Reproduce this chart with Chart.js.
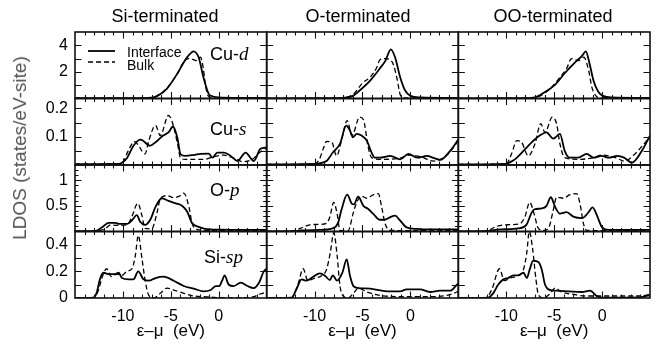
<!DOCTYPE html>
<html>
<head>
<meta charset="utf-8">
<script src="https://cdn.jsdelivr.net/npm/chart.js@4.4.1/dist/chart.umd.min.js"></script>
<style>
  html, body { margin:0; padding:0; background:#fff; }
  #wrap { position:relative; width:667px; height:352px; overflow:hidden;
          font-family:"Liberation Sans", Arial, Helvetica, sans-serif; color:#000; }
  #ldos { position:absolute; left:0; top:0; }
  .coltitle { position:absolute; top:5px; font-size:18px; line-height:22px; white-space:nowrap; transform:translateX(-50%); }
  .ytitle { position:absolute; left:20px; top:148px; font-size:19px; line-height:22px; color:#555; white-space:nowrap;
            transform:translate(-50%,-50%) rotate(-90deg); }
  .plabel { position:absolute; font-size:18px; line-height:20px; white-space:nowrap; }
  .plabel i { font-family:"Liberation Serif", "Times New Roman", serif; font-size:19px; }
  .legtext { position:absolute; left:127px; font-size:14px; line-height:16px; white-space:nowrap; }
</style>
</head>
<body>
<div id="wrap">
  <canvas id="ldos" width="667" height="352"></canvas>

  <div class="coltitle" style="left:165px">Si-terminated</div>
  <div class="coltitle" style="left:358px">O-terminated</div>
  <div class="coltitle" style="left:553px">OO-terminated</div>

  <div class="ytitle">LDOS (states/eV-site)</div>

  <div class="plabel" style="left:210px;top:44px">Cu-<i>d</i></div>
  <div class="plabel" style="left:210px;top:119px">Cu-<i>s</i></div>
  <div class="plabel" style="left:210px;top:180px">O-<i>p</i></div>
  <div class="plabel" style="left:204px;top:247px">Si-<i>sp</i></div>

  <svg style="position:absolute;left:86px;top:44px" width="32" height="24">
    <line x1="2" y1="7" x2="29" y2="7" stroke="#000" stroke-width="1.8"/>
    <line x1="2" y1="18" x2="29" y2="18" stroke="#000" stroke-width="1.3" stroke-dasharray="5,3"/>
  </svg>
  <div class="legtext" style="top:44px">Interface</div>
  <div class="legtext" style="top:57px">Bulk</div>
</div>

<script>
// energy window (eV) and tick labels
var xMin = -15, xMax = 5;
var xTickLabels = [-10, -5, 0];
var cuDTickLabels = [2, 4];
var cuSTickLabels = [0.1, 0.2];
var opTickLabels = [0.5, 1];
var siTickLabels = [0, 0.2, 0.4];

// [energy, LDOS]
// Cu-d
var siCuD_int  = [[-15,0.02],[-8,0.03],[-7,0.06],[-6.4,0.2],[-5.4,0.75],[-4.3,1.9],[-3.5,2.9],[-3.0,3.35],[-2.65,3.55],[-2.1,3.1],[-1.6,1.6],[-1.05,0.35],[-0.6,0.15],[0,0.08],[2,0.05],[5,0.04]];
var siCuD_bulk = [[-15,0.02],[-7,0.05],[-6.2,0.3],[-5.3,0.85],[-4.3,1.9],[-3.6,2.8],[-3.2,3.0],[-2.7,2.95],[-2.4,2.85],[-1.9,3.1],[-1.6,2.2],[-1.35,0.85],[-1.1,0.2],[-0.6,0.05],[5,0.02]];
var oCuD_int   = [[-15,0.01],[-8,0.02],[-7,0.05],[-6,0.2],[-5.3,0.6],[-4.2,1.35],[-3.2,2.25],[-2.6,2.85],[-2.05,3.7],[-1.6,3.1],[-1.07,1.6],[-0.55,0.6],[0,0.2],[1,0.08],[5,0.04]];
var oCuD_bulk  = [[-15,0.01],[-7,0.05],[-6,0.3],[-4.95,1.2],[-4.2,1.6],[-3.5,2.35],[-3.2,2.9],[-2.6,3.0],[-2.1,2.9],[-1.8,2.6],[-1.4,1.5],[-1.07,0.3],[-0.7,0.05],[5,0.02]];
var ooCuD_int  = [[-15,0.01],[-8,0.02],[-7,0.08],[-6,0.47],[-4.95,1.0],[-3.9,1.9],[-2.85,2.7],[-2.1,3.2],[-1.7,3.55],[-1.3,2.6],[-0.9,1.35],[-0.4,0.5],[0.1,0.2],[1,0.08],[5,0.04]];
var ooCuD_bulk = [[-15,0.01],[-7,0.06],[-6,0.4],[-4.95,1.1],[-4.4,1.6],[-3.7,2.25],[-3.2,3.0],[-2.5,2.85],[-1.9,3.1],[-1.4,2.1],[-1.07,0.85],[-0.75,0.3],[-0.3,0.05],[5,0.02]];

// Cu-s
var siCuS_int  = [[-15,0.003],[-10.5,0.004],[-10.1,0.008],[-9.55,0.026],[-8.9,0.068],[-8.2,0.09],[-7.9,0.086],[-7.2,0.068],[-6.4,0.086],[-5.8,0.104],[-5.25,0.115],[-4.77,0.136],[-4.3,0.093],[-4.0,0.039],[-3.5,0.032],[-2.5,0.036],[-1.9,0.039],[-1.05,0.04],[-0.65,0.026],[-0.15,0.044],[0.55,0.044],[1.25,0.032],[1.95,0.014],[2.8,0.044],[3.65,0.014],[4.35,0.057],[5,0.062]];
var siCuS_bulk = [[-15,0.003],[-10.5,0.004],[-10.0,0.01],[-9.45,0.05],[-8.8,0.083],[-8.4,0.07],[-7.7,0.039],[-7.3,0.086],[-6.6,0.14],[-6.1,0.104],[-5.25,0.175],[-4.9,0.157],[-4.3,0.075],[-4.0,0.026],[-3.5,0.02],[-1.5,0.02],[-0.5,0.03],[0.5,0.035],[1.5,0.025],[2.5,0.012],[3.5,0.02],[4.3,0.045],[5,0.06]];
var oCuS_int   = [[-15,0.002],[-10,0.004],[-9.5,0.006],[-8.75,0.014],[-8.1,0.044],[-7.35,0.075],[-6.7,0.139],[-6.3,0.121],[-6.0,0.098],[-5.6,0.11],[-5.1,0.104],[-4.55,0.086],[-4.05,0.044],[-3.7,0.026],[-3.2,0.026],[-2.1,0.032],[-1.07,0.02],[-0.2,0.039],[0.7,0.026],[1.75,0.032],[2.4,0.025],[3.1,0.018],[4.15,0.05],[5,0.09]];
var oCuS_bulk  = [[-15,0.002],[-10,0.004],[-9.5,0.02],[-9.1,0.057],[-8.75,0.083],[-8.2,0.08],[-7.7,0.032],[-7.2,0.086],[-6.6,0.157],[-6.1,0.104],[-5.3,0.169],[-4.9,0.16],[-4.4,0.062],[-4.05,0.026],[-3,0.02],[-1,0.025],[-0.35,0.035],[1,0.03],[2.4,0.014],[3.8,0.035],[5,0.085]];
var ooCuS_int  = [[-15,0.002],[-10,0.004],[-9.6,0.01],[-9.1,0.02],[-8.2,0.05],[-7.35,0.08],[-6.5,0.104],[-5.8,0.115],[-5.1,0.093],[-4.4,0.11],[-3.9,0.05],[-3.4,0.026],[-2.5,0.026],[-1.6,0.039],[-0.9,0.026],[-0.05,0.032],[0.7,0.026],[1.55,0.032],[2.3,0.026],[3.1,0.008],[4.15,0.05],[5,0.104]];
var ooCuS_bulk = [[-15,0.002],[-10,0.004],[-9.45,0.039],[-8.9,0.086],[-8.4,0.08],[-7.7,0.032],[-7.0,0.075],[-6.4,0.146],[-5.95,0.115],[-5.2,0.169],[-4.75,0.146],[-4.4,0.075],[-3.9,0.026],[-2.5,0.02],[-1,0.025],[-0.05,0.035],[1.4,0.026],[2.3,0.014],[3.45,0.04],[4.5,0.08],[5,0.1]];

// O-p
var siOp_int  = [[-15,0.005],[-13,0.008],[-12.7,0.02],[-12.05,0.1],[-11.5,0.17],[-10.8,0.17],[-10.4,0.15],[-9.55,0.15],[-9.05,0.22],[-8.55,0.32],[-8.2,0.19],[-7.7,0.13],[-7.15,0.23],[-6.6,0.48],[-5.95,0.65],[-5.25,0.6],[-4.5,0.55],[-3.8,0.5],[-3.3,0.39],[-2.8,0.17],[-2.1,0.09],[-1,0.04],[0.5,0.035],[2,0.03],[5,0.03]];
var siOp_bulk = [[-15,0.003],[-12.8,0.005],[-12.4,0.02],[-11.8,0.06],[-11.3,0.13],[-10.6,0.12],[-9.55,0.13],[-9.05,0.3],[-8.45,0.55],[-8.0,0.3],[-7.7,0.06],[-7.0,0.05],[-6.45,0.36],[-6.1,0.64],[-5.4,0.7],[-4.7,0.66],[-4.0,0.7],[-3.65,0.75],[-3.1,0.47],[-2.8,0.17],[-2.3,0.04],[-1,0.02],[5,0.015]];
var oOp_int   = [[-15,0.003],[-12,0.005],[-11.5,0.02],[-9.45,0.03],[-8.1,0.06],[-7.55,0.17],[-7.2,0.42],[-6.6,0.72],[-6.1,0.54],[-5.9,0.53],[-5.45,0.68],[-4.9,0.5],[-4.4,0.44],[-3.85,0.34],[-3.2,0.23],[-2.7,0.23],[-2.1,0.28],[-1.6,0.31],[-1.1,0.22],[-0.4,0.08],[0.65,0.05],[2,0.04],[5,0.04]];
var oOp_bulk  = [[-15,0.003],[-12.4,0.005],[-12.0,0.02],[-11.5,0.06],[-10.5,0.13],[-9.45,0.14],[-8.75,0.16],[-8.4,0.29],[-8.0,0.57],[-7.65,0.35],[-7.35,0.02],[-6.5,0.01],[-6.3,0.1],[-6.0,0.34],[-5.6,0.57],[-5.1,0.69],[-4.55,0.65],[-3.85,0.72],[-3.35,0.74],[-3.0,0.48],[-2.65,0.16],[-2.1,0.02],[5,0.015]];
var ooOp_int  = [[-15,0.003],[-12,0.005],[-11.5,0.02],[-10.5,0.04],[-8.75,0.06],[-7.9,0.13],[-7.4,0.35],[-7.1,0.43],[-6.3,0.45],[-5.8,0.5],[-5.35,0.67],[-4.9,0.48],[-4.4,0.35],[-3.7,0.38],[-3.0,0.29],[-2.1,0.26],[-1.4,0.38],[-1.0,0.47],[-0.55,0.32],[0,0.08],[0.7,0.03],[5,0.03]];
var ooOp_bulk = [[-15,0.003],[-12.2,0.005],[-11.9,0.02],[-11.0,0.1],[-10.15,0.13],[-8.6,0.15],[-8.05,0.29],[-7.55,0.57],[-7.1,0.35],[-6.65,0.06],[-6.1,0.02],[-5.6,0.06],[-5.1,0.41],[-4.75,0.67],[-4.05,0.65],[-3.35,0.72],[-2.65,0.74],[-2.3,0.54],[-1.95,0.16],[-1.6,0.02],[5,0.015]];

// Si-sp
var siSi_int  = [[-15,0],[-13.1,0.003],[-12.75,0.037],[-12.4,0.14],[-12.05,0.19],[-11.5,0.18],[-10.8,0.18],[-10.45,0.19],[-10.1,0.15],[-9.4,0.14],[-8.9,0.14],[-8.4,0.2],[-7.85,0.14],[-7.3,0.13],[-6.6,0.15],[-5.75,0.16],[-4.7,0.13],[-3.65,0.09],[-2.6,0.07],[-1.55,0.05],[-0.85,0.06],[-0.3,0.09],[0.05,0.09],[0.35,0.13],[0.6,0.17],[1.05,0.1],[1.55,0.09],[2.3,0.115],[3.0,0.09],[3.65,0.075],[4.2,0.115],[4.7,0.2],[5,0.22]];
var siSi_bulk = [[-15,0],[-13,0.003],[-12.6,0.05],[-12.1,0.17],[-11.7,0.22],[-11.2,0.16],[-10.6,0.18],[-10.1,0.17],[-9.6,0.2],[-9.05,0.22],[-8.7,0.32],[-8.4,0.47],[-8.0,0.29],[-7.7,0.14],[-7.3,0.02],[-6.8,0],[-6.1,0.035],[-5.4,0.075],[-4.7,0.06],[-3.85,0.04],[-2.6,0.015],[-1.5,0.01],[0,0.003],[3,0.003],[3.65,0.01],[4.3,0.03],[5,0.045]];
var oSi_int   = [[-15,0],[-12.4,0.003],[-11.9,0.065],[-11.35,0.14],[-10.85,0.13],[-10.15,0.16],[-9.45,0.185],[-8.95,0.17],[-8.4,0.135],[-8.1,0.17],[-7.65,0.13],[-7.1,0.19],[-6.65,0.29],[-6.3,0.165],[-5.95,0.09],[-5.4,0.075],[-4.2,0.07],[-2.45,0.05],[-1.07,0.05],[-0.4,0.065],[1.0,0.065],[2.05,0.045],[3.1,0.055],[4.15,0.055],[4.85,0.1],[5,0.11]];
var oSi_bulk  = [[-15,0],[-12.4,0.003],[-11.7,0.11],[-11.2,0.22],[-10.7,0.13],[-10.0,0.15],[-9.3,0.165],[-8.75,0.215],[-8.35,0.345],[-8.0,0.49],[-7.65,0.32],[-7.35,0.09],[-7.0,0.015],[-6.5,0],[-5.95,0.035],[-5.4,0.075],[-4.55,0.045],[-3.2,0.02],[-1,0.01],[2,0.01],[3.8,0.02],[4.85,0.045],[5,0.05]];
var ooSi_int  = [[-15,0],[-11.9,0.003],[-11.35,0.037],[-10.85,0.1],[-10.3,0.14],[-9.8,0.15],[-9.25,0.17],[-8.75,0.17],[-8.2,0.19],[-7.85,0.15],[-7.55,0.215],[-7.2,0.28],[-6.65,0.27],[-6.3,0.215],[-5.95,0.1],[-5.6,0.065],[-4.9,0.055],[-3.5,0.05],[-2.1,0.045],[-1.25,0.055],[-0.55,0.015],[0,0.003],[4,0.005],[4.5,0.015],[5,0.02]];
var ooSi_bulk = [[-15,0],[-12.1,0.003],[-11.5,0.065],[-10.7,0.22],[-10.2,0.13],[-9.6,0.15],[-8.9,0.165],[-8.2,0.215],[-7.85,0.345],[-7.6,0.5],[-7.25,0.37],[-6.9,0.14],[-6.65,0.025],[-6.1,0],[-5.4,0.035],[-4.9,0.075],[-4.2,0.045],[-2.8,0.025],[-1.75,0.015],[3.8,0.015],[4.85,0.025],[5,0.03]];

var FONT = "'Liberation Sans', Arial, Helvetica, sans-serif";

// rows bottom-to-top: Chart.js puts the last stacked left axis on top
var rows = [
  { id: "ySi",  max: 0.5,   step: 0.1,  major: 0.1,  labels: siTickLabels },
  { id: "yOp",  max: 1.3,   step: 0.1,  major: 0.5,  labels: opTickLabels },
  { id: "yCuS", max: 0.235, step: 0.05, major: 0.05, labels: cuSTickLabels },
  { id: "yCuD", max: 5,     step: 1,    major: 1,    labels: cuDTickLabels }
];
var cols = ["xSi", "xO", "xOO"];

var panels = [
  { x: "xSi", y: "yCuD", iface: siCuD_int, bulk: siCuD_bulk },
  { x: "xO",  y: "yCuD", iface: oCuD_int,  bulk: oCuD_bulk },
  { x: "xOO", y: "yCuD", iface: ooCuD_int, bulk: ooCuD_bulk },
  { x: "xSi", y: "yCuS", iface: siCuS_int, bulk: siCuS_bulk },
  { x: "xO",  y: "yCuS", iface: oCuS_int,  bulk: oCuS_bulk },
  { x: "xOO", y: "yCuS", iface: ooCuS_int, bulk: ooCuS_bulk },
  { x: "xSi", y: "yOp",  iface: siOp_int,  bulk: siOp_bulk },
  { x: "xO",  y: "yOp",  iface: oOp_int,   bulk: oOp_bulk },
  { x: "xOO", y: "yOp",  iface: ooOp_int,  bulk: ooOp_bulk },
  { x: "xSi", y: "ySi",  iface: siSi_int,  bulk: siSi_bulk },
  { x: "xO",  y: "ySi",  iface: oSi_int,   bulk: oSi_bulk },
  { x: "xOO", y: "ySi",  iface: ooSi_int,  bulk: ooSi_bulk }
];

function onlyLabels(list){
  return function (value) {
    for (var i = 0; i < list.length; i++) {
      if (Math.abs(list[i] - value) < 1e-6) return String(list[i]);
    }
    return "";
  };
}

var scales = {};
cols.forEach(function (id) {
  scales[id] = {
    type: "linear", position: "bottom", stack: "energy", stackWeight: 1,
    min: xMin, max: xMax,
    grid: { display: false, drawTicks: false },
    border: { display: false },
    ticks: { stepSize: 1, autoSkip: false, maxRotation: 0, padding: 9, color: "#000",
             font: { family: FONT, size: 16 }, callback: onlyLabels(xTickLabels) },
    title: { display: true, text: "\u03b5\u2013\u03bc  (eV)", color: "#000",
             font: { family: FONT, size: 17 }, padding: { top: 0, bottom: 10 } },
    afterFit: function (s) { s.height = 54; }
  };
});
rows.forEach(function (r) {
  scales[r.id] = {
    type: "linear", position: "left", stack: "ldos", stackWeight: 1,
    min: 0, max: r.max,
    grid: { display: false, drawTicks: false },
    border: { display: false },
    ticks: { stepSize: r.step, autoSkip: false, includeBounds: false, padding: 7, color: "#000",
             font: { family: FONT, size: 16 }, callback: onlyLabels(r.labels) },
    afterFit: function (s) { s.width = 75; }
  };
});

var datasets = [];
panels.forEach(function (p) {
  datasets.push({ label: "Interface", data: p.iface, xAxisID: p.x, yAxisID: p.y,
                  borderColor: "#000", borderWidth: 1.8 });
  datasets.push({ label: "Bulk", data: p.bulk, xAxisID: p.x, yAxisID: p.y,
                  borderColor: "#000", borderWidth: 1.3, borderDash: [5, 3] });
});

// panel boxes with inward ticks on all four sides
var panelFrame = {
  id: "panelFrame",
  afterDatasetsDraw: function (chart) {
    var ctx = chart.ctx;
    ctx.save();
    ctx.strokeStyle = "#111";
    cols.forEach(function (cid) {
      var xs = chart.scales[cid];
      rows.forEach(function (r) {
        var ys = chart.scales[r.id];
        ctx.lineWidth = 1.1;
        ctx.beginPath();
        xs.ticks.forEach(function (t) {
          if (t.value <= xMin || t.value >= xMax) return;
          var px = Math.round(xs.getPixelForValue(t.value)) + 0.5;
          var len = (t.value % 5 === 0) ? 6.5 : 3.5;
          ctx.moveTo(px, ys.bottom); ctx.lineTo(px, ys.bottom - len);
          ctx.moveTo(px, ys.top);    ctx.lineTo(px, ys.top + len);
        });
        ys.ticks.forEach(function (t) {
          if (t.value <= 0 || t.value >= r.max - 1e-9) return;
          var py = Math.round(ys.getPixelForValue(t.value)) + 0.5;
          var q = t.value / r.major;
          var len = Math.abs(q - Math.round(q)) < 1e-6 ? 6.5 : 3.5;
          ctx.moveTo(xs.left, py);  ctx.lineTo(xs.left + len, py);
          ctx.moveTo(xs.right, py); ctx.lineTo(xs.right - len, py);
        });
        ctx.stroke();
        ctx.lineWidth = 1.6;
        ctx.strokeRect(xs.left, ys.top, xs.right - xs.left, ys.bottom - ys.top);
      });
    });
    ctx.restore();
  }
};

new Chart(document.getElementById("ldos"), {
  type: "line",
  data: { datasets: datasets },
  options: {
    responsive: false,
    animation: false,
    devicePixelRatio: 1,
    layout: { padding: { left: 0, right: 17, top: 32, bottom: 0 } },
    elements: {
      point: { radius: 0 },
      line: { cubicInterpolationMode: "monotone", fill: false }
    },
    plugins: { legend: { display: false }, tooltip: { enabled: false } },
    scales: scales
  },
  plugins: [panelFrame]
});
</script>
</body>
</html>
